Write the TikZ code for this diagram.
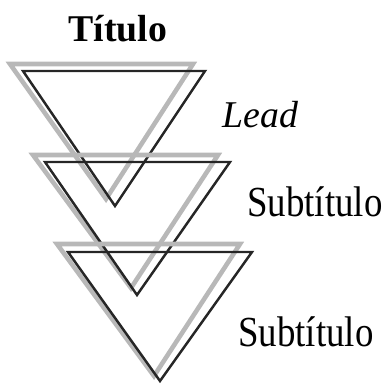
\documentclass[tikz,border=0pt]{standalone}
\usepackage{fontspec}
\setmainfont{Liberation Serif}
\usetikzlibrary{positioning}

\begin{document}
\begin{tikzpicture}[x=0.02cm, y=-0.02cm, line join=miter,
                    tri back/.style={draw=black!28, line width=2.6pt},
                    tri front/.style={draw=black!85, line width=1.4pt},
                    tag/.style={inner sep=0pt, anchor=base west, font=\fontsize{24.4}{26}\selectfont}]
    \useasboundingbox (0,0) rectangle (386,385);

    % Title on top
    \node[inner sep=0pt, anchor=base, font=\fontsize{21.5}{24}\selectfont\bfseries] (titulo) at (118,42) {Título};

    % Triangle one (Lead)
    \draw[tri back]  (10,64) -- (193,64) -- (106,199) -- cycle;
    \draw[tri front] (23,71) -- (205,71) -- (115,206) -- cycle;

    % Triangle two
    \draw[tri back]  (33,155) -- (218,155) -- (131,288) -- cycle;
    \draw[tri front] (45,162) -- (230,162) -- (137,295) -- cycle;

    % Triangle three
    \draw[tri back]  (57,244) -- (240,244) -- (154,376) -- cycle;
    \draw[tri front] (68,252) -- (252,252) -- (160,381) -- cycle;

    % Labels beside the triangles
    \node[tag, font=\fontsize{21.5}{24}\selectfont\itshape] (lead) at (222,128) {Lead};
    \node[tag] (sub1) at (247,217) {\scalebox{0.86}[1]{Subtítulo}};
    \node[tag] (sub2) at (238,347) {\scalebox{0.86}[1]{Subtítulo}};

\end{tikzpicture}
\end{document}
